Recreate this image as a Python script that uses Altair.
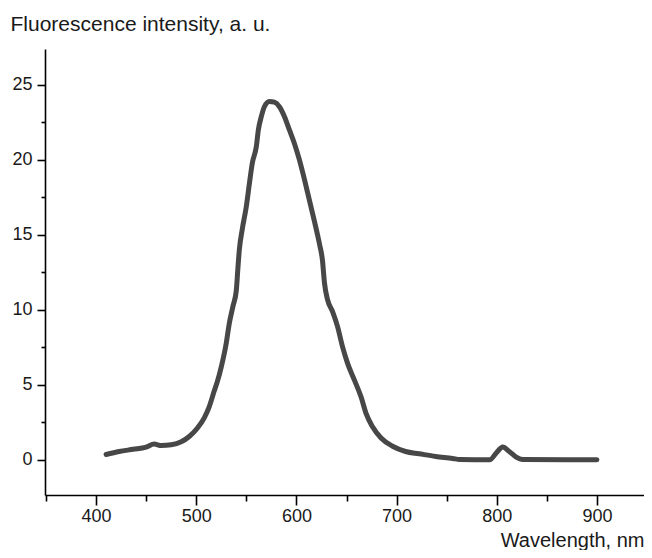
import altair as alt
import pandas as pd

wavelength = [410, 423, 437, 450, 458, 465, 475, 485, 493, 501, 508, 513, 518, 521,
              525, 530, 533, 536.5, 540, 541.5, 543, 546, 550, 553, 556, 560, 562,
              565, 568, 573, 578, 583, 588, 593, 598, 603, 608, 613, 618, 623, 626,
              628, 631, 636, 641, 646, 651, 658, 664.5, 669.5, 676, 684.5, 696, 709,
              722.5, 739, 756, 763, 793, 799.5, 806, 812.5, 819, 826, 900]
intensity = [0.35, 0.55, 0.7, 0.85, 1.05, 0.95, 1.0, 1.2, 1.55, 2.1, 2.8, 3.55, 4.6, 5.2,
             6.2, 7.8, 9.1, 10.2, 11.3, 12.7, 14.0, 15.4, 16.9, 18.4, 19.8, 20.9, 22.0,
             22.9, 23.55, 23.9, 23.85, 23.55, 22.9, 22.0, 21.1, 20.0, 18.7, 17.3, 15.9, 14.4, 13.3,
             11.8, 10.7, 9.9, 8.9, 7.55, 6.45, 5.3, 4.2, 3.1, 2.2, 1.45, 0.9, 0.55,
             0.4, 0.22, 0.09, 0.02, 0.0, 0.45, 0.85, 0.55, 0.2, 0.02, 0.0]

x_ticks = [350, 400, 450, 500, 550, 600, 650, 700, 750, 800, 850, 900]
y_ticks = [0, 2.5, 5, 7.5, 10, 12.5, 15, 17.5, 20, 22.5, 25]

df = pd.DataFrame({"wavelength": wavelength, "intensity": intensity})

FONT = "Liberation Sans"

chart = alt.Chart(df).mark_line(
    color="#474747", strokeWidth=5, strokeCap="round", strokeJoin="round",
    interpolate="monotone"
).encode(
    x=alt.X("wavelength:Q",
            scale=alt.Scale(domain=[349, 947], nice=False, zero=False),
            axis=alt.Axis(
                values=x_ticks,
                labelExpr="datum.value % 100 === 0 ? datum.label : ''",
                tickSize={"condition": {"test": "datum.value % 100 !== 0", "value": 6}, "value": 10},
                title="Wavelength, nm",
                titleX=599, titleY=51, titleAlign="right", titleBaseline="alphabetic",
                titleFont=FONT, titleFontSize=20, titleFontWeight="normal", titleColor="#1a1a1a",
                labelFont=FONT, labelFontSize=18, labelColor="#1a1a1a", labelPadding=2,
                domainColor="black", domainWidth=1.6, tickColor="black", tickWidth=1.6,
                grid=False, labelFlush=False, labelOverlap=False,
            )),
    y=alt.Y("intensity:Q",
            scale=alt.Scale(domain=[-2.35, 27.4], nice=False, zero=False),
            axis=alt.Axis(
                values=y_ticks,
                labelExpr="datum.value % 5 === 0 ? datum.label : ''",
                tickSize={"condition": {"test": "datum.value % 5 !== 0", "value": 4}, "value": 8},
                title="Fluorescence intensity, a. u.",
                titleX=-35, titleY=-19, titleAngle=0, titleAlign="left", titleBaseline="alphabetic",
                titleFont=FONT, titleFontSize=21, titleFontWeight="normal", titleColor="#1a1a1a",
                labelFont=FONT, labelFontSize=18, labelColor="#1a1a1a", labelPadding=5,
                domainColor="black", domainWidth=1.6, tickColor="black", tickWidth=1.6,
                grid=False, labelFlush=False, labelOverlap=False,
            )),
).properties(
    width=599, height=446,
    autosize=alt.AutoSizeParams(type="none"),
    padding={"left": 37, "top": 41, "right": 0, "bottom": 55},
).configure(background="white").configure_view(stroke=None)

chart.save("out.html", embed_options={"renderer": "svg", "actions": False})
